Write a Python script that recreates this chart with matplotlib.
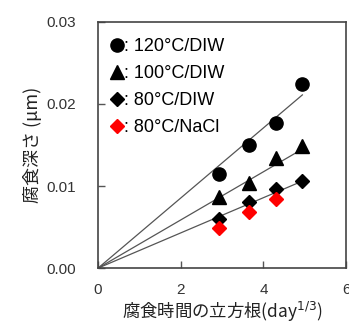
import matplotlib.pyplot as plt
from matplotlib.lines import Line2D

plt.rcParams['font.family'] = ['Liberation Sans', 'Noto Sans CJK JP', 'DejaVu Sans']

# cube root of corrosion time (day^1/3)
x_pts = [2.92, 3.65, 4.31, 4.94]

depth_120 = [0.0115, 0.0150, 0.0177, 0.0224]
depth_100 = [0.0087, 0.0104, 0.0134, 0.0149]
depth_80 = [0.0060, 0.0080, 0.0096, 0.0106]
depth_80_nacl = [0.0049, 0.0068, 0.0084]

# fitted lines through the origin (end values)
line_x = [0, 4.94]
line_120 = [0, 0.0211]
line_100 = [0, 0.0145]
line_80 = [0, 0.0106]

labels = [': 120°C/DIW', ': 100°C/DIW', ': 80°C/DIW', ': 80°C/NaCl']

fig = plt.figure(figsize=(3.49, 3.31), dpi=100)
ax = fig.add_axes([0.281, 0.190, 0.711, 0.744])

for ly in [line_120, line_100, line_80]:
    ax.plot(line_x, ly, color='#555555', lw=0.9, zorder=1)

ax.plot(x_pts, depth_120, 'o', color='black', ms=9.5, ls='none', zorder=3)
ax.plot(x_pts, depth_100, '^', color='black', ms=9.5, ls='none', zorder=3)
ax.plot(x_pts, depth_80, 'D', color='black', ms=7, ls='none', zorder=3)
ax.plot(x_pts[:3], depth_80_nacl, 'D', color='red', ms=7, ls='none', zorder=3)

handles = [
    Line2D([], [], marker='o', color='black', ls='none', ms=9.5),
    Line2D([], [], marker='^', color='black', ls='none', ms=9.5),
    Line2D([], [], marker='D', color='black', ls='none', ms=7),
    Line2D([], [], marker='D', color='red', ls='none', ms=7),
]
ax.legend(handles, labels, loc='upper left', frameon=False, fontsize=13,
          handlelength=0.7, handletextpad=0.05, labelspacing=0.55,
          borderaxespad=0.3, bbox_to_anchor=(0.0, 0.985))

ax.set_xlim(0, 6)
ax.set_ylim(0, 0.03)
ax.set_xticks([0, 2, 4, 6])
ax.set_yticks([0, 0.01, 0.02, 0.03])
ax.set_yticklabels(['0.00', '0.01', '0.02', '0.03'])
ax.tick_params(direction='in', length=5, width=1, labelsize=11,
               labelcolor='#333333', color='#555555')
ax.tick_params(axis='y', pad=16)
ax.tick_params(axis='x', pad=11)
for s in ax.spines.values():
    s.set_color('#444444')
    s.set_linewidth(1.2)

ax.set_xlabel('腐食時間の立方根(day$^{1/3}$)', fontsize=12.5, color='#222222',
              family=['Noto Sans CJK JP', 'DejaVu Sans'], labelpad=2)
ax.set_ylabel('腐食深さ (μm)', fontsize=13, color='#222222',
              family=['Noto Sans CJK JP', 'DejaVu Sans'], labelpad=3)

fig.savefig('out.png', dpi=100)
